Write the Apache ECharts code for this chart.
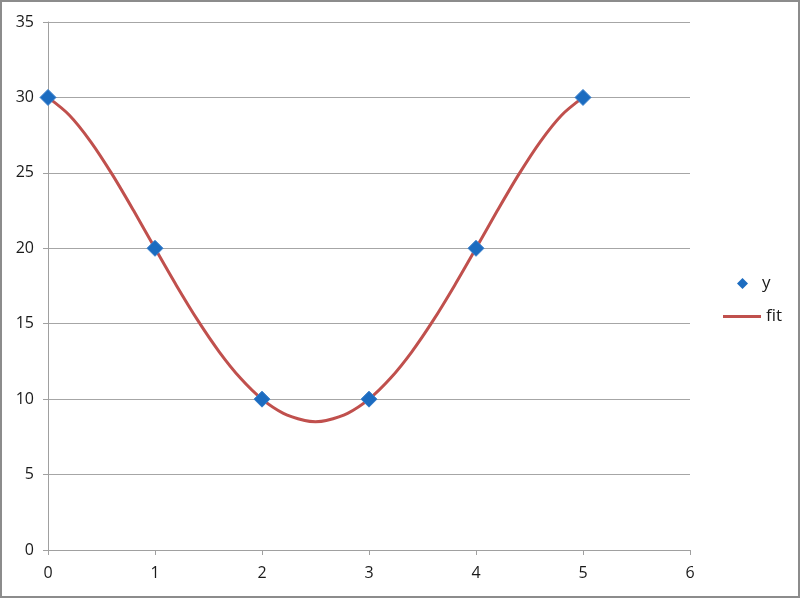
<!DOCTYPE html>
<html>
<head>
<meta charset="utf-8">
<script src="https://cdn.jsdelivr.net/npm/echarts@6/dist/echarts.min.js"></script>
<style>
html,body{margin:0;padding:0;background:#fff;}
#chart{width:800px;height:598px;}
</style>
</head>
<body>
<div id="chart"></div>
<script>
// Observed data points (series "y")
var xPoints = [0, 1, 2, 3, 4, 5];
var yPoints = [30, 20, 10, 10, 20, 30];

// Fit curve values (series "fit")
var fitX = [0, 0.2, 0.4, 0.6, 0.8, 1.0, 1.2, 1.4, 1.6, 1.8, 2.0, 2.2, 2.4, 2.5, 2.6, 2.8, 3.0, 3.2, 3.4, 3.6, 3.8, 4.0, 4.2, 4.4, 4.6, 4.8, 5.0];
var fitY = [30, 28.82, 27.06, 24.90, 22.50, 20, 17.54, 15.22, 13.14, 11.38, 10, 9.06, 8.58, 8.5, 8.58, 9.06, 10, 11.38, 13.14, 15.22, 17.54, 20, 22.50, 24.90, 27.06, 28.82, 30];

var xTicks = [0, 1, 2, 3, 4, 5, 6];
var yTicks = [0, 5, 10, 15, 20, 25, 30, 35];

var FONT = 'Open Sans';
var chart = echarts.init(document.getElementById('chart'), null, {renderer: 'canvas'});

var pts = xPoints.map(function (x, i) { return [x, yPoints[i]]; });
var fit = fitX.map(function (x, i) { return [x, fitY[i]]; });

chart.setOption({
  animation: false,
  backgroundColor: '#ffffff',
  graphic: [{
    type: 'rect',
    shape: {x: 1, y: 1, width: 798, height: 596},
    style: {fill: 'none', stroke: '#8c8c8c', lineWidth: 2},
    silent: true
  }],
  grid: {left: 48, right: 110, top: 22, bottom: 48, containLabel: false},
  xAxis: {
    type: 'value',
    min: xTicks[0],
    max: xTicks[xTicks.length - 1],
    interval: 1,
    axisLine: {show: true, lineStyle: {color: '#a0a0a0', width: 1}},
    axisTick: {show: true, length: 5, inside: false, lineStyle: {color: '#a0a0a0'}},
    splitLine: {show: false},
    axisLabel: {color: '#1a1a1a', fontFamily: FONT, fontSize: 16, margin: 15}
  },
  yAxis: {
    type: 'value',
    min: yTicks[0],
    max: yTicks[yTicks.length - 1],
    interval: 5,
    axisLine: {show: true, lineStyle: {color: '#a0a0a0', width: 1}},
    axisTick: {show: true, length: 5, inside: false, lineStyle: {color: '#a0a0a0'}},
    splitLine: {show: true, lineStyle: {color: '#a6a6a6', width: 1}},
    axisLabel: {color: '#1a1a1a', fontFamily: FONT, fontSize: 16, margin: 14}
  },
  legend: [
    {
      left: 737,
      top: 275,
      padding: 0,
      itemWidth: 11,
      itemHeight: 11,
      textStyle: {color: '#1a1a1a', fontFamily: FONT, fontSize: 17, padding: [0, 0, 0, 9]},
      data: [{name: 'y', icon: 'diamond', itemStyle: {color: '#1C6CC0', borderWidth: 0, opacity: 1}}]
    },
    {
      left: 723,
      top: 308,
      padding: 0,
      itemWidth: 38,
      itemHeight: 3,
      textStyle: {color: '#1a1a1a', fontFamily: FONT, fontSize: 17},
      data: [{name: 'fit', icon: 'rect', itemStyle: {color: '#C0504D'}}]
    }
  ],
  series: [
    {
      name: 'fit',
      type: 'line',
      data: fit,
      smooth: 0.3,
      symbol: 'none',
      lineStyle: {color: '#C0504D', width: 3},
      itemStyle: {color: '#C0504D'},
      z: 2
    },
    {
      name: 'y',
      type: 'scatter',
      data: pts,
      symbol: 'diamond',
      symbolSize: 16,
      itemStyle: {color: '#1C6CC0', borderColor: '#3A80CC', borderWidth: 1, opacity: 1},
      z: 3
    }
  ]
});
</script>
</body>
</html>
